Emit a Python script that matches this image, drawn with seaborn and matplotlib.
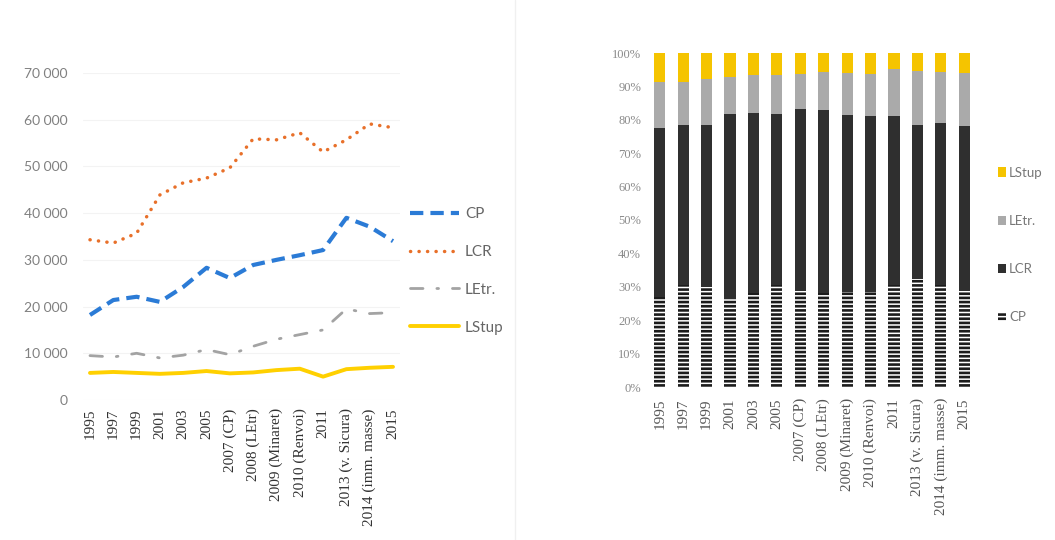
import numpy as np
import pandas as pd
import matplotlib
matplotlib.use("Agg")
import matplotlib.pyplot as plt
import seaborn as sns
from matplotlib.ticker import FuncFormatter
from matplotlib.patches import Patch
from matplotlib.lines import Line2D

# ---------------- data ----------------
categories = ["1995", "1997", "1999", "2001", "2003", "2005", "2007 (CP)",
              "2008 (LEtr)", "2009 (Minaret)", "2010 (Renvoi)", "2011",
              "2013 (v. Sicura)", "2014 (imm. masse)", "2015"]
cp = [18200, 21400, 22100, 21000, 24200, 28300, 26100, 28900, 30000, 31000, 32100, 39000, 37100, 34000]
lcr = [34300, 33600, 35700, 43900, 46500, 47500, 49700, 55900, 55700, 57200, 53100, 55700, 59100, 58300]
letr = [9500, 9200, 10000, 9000, 9600, 10800, 9700, 11500, 13000, 14000, 15000, 19500, 18500, 18700]
lstup = [5800, 6000, 5800, 5600, 5800, 6200, 5700, 5900, 6400, 6700, 5000, 6600, 6900, 7100]
series_names = ["CP", "LCR", "LEtr.", "LStup"]
abs_ticks = [0, 10000, 20000, 30000, 40000, 50000, 60000, 70000]
pct_ticks = [0, 10, 20, 30, 40, 50, 60, 70, 80, 90, 100]

# ---------------- style ----------------
sns.set_theme(style="white")
plt.rcParams['font.family'] = ['Lato', 'DejaVu Sans']
plt.rcParams['hatch.linewidth'] = 1.9

W, H = 1055, 540
fig = plt.figure(figsize=(W / 100, H / 100), dpi=100)
fig.patch.set_facecolor("white")

# ---------------- left: line chart ----------------
ax1 = fig.add_axes([83 / W, (H - 400) / H, 317 / W, 327 / H])
x = np.arange(len(categories))
df = pd.DataFrame({"x": x, "CP": cp, "LCR": lcr, "LEtr.": letr, "LStup": lstup})

line_styles = {
    "CP":    dict(color="#2B7BD6", lw=3.0, dashes=(3.2, 1.7), cap="butt"),
    "LCR":   dict(color="#E8702A", lw=2.5, dashes=(0.05, 2.4), cap="round"),
    "LEtr.": dict(color="#A3A3A3", lw=2.0, dashes=(4.5, 5, 0.6, 5), cap="round"),
    "LStup": dict(color="#FFD000", lw=2.8, dashes=None, cap="butt"),
}
handles = []
for name in series_names:
    st = line_styles[name]
    sns.lineplot(data=df, x="x", y=name, ax=ax1, color=st["color"], lw=st["lw"], sort=False)
    ln = ax1.lines[-1]
    if st["dashes"] is not None:
        ln.set_dashes(st["dashes"])
        ln.set_dash_capstyle(st["cap"])
    handles.append(ln)

ax1.set_xlim(-0.3, len(categories) - 1 + 0.3)
ax1.set_ylim(0, 70000)
ax1.set_yticks(abs_ticks)
ax1.yaxis.set_major_formatter(FuncFormatter(lambda v, p: f"{int(v):,}".replace(",", " ")))
ax1.set_xticks(x)
ax1.set_xticklabels(categories, rotation=90, family=["Liberation Serif", "DejaVu Serif"],
                    fontsize=11, color="#333333")
ax1.tick_params(axis="y", labelsize=10, labelcolor="#808080", length=0, pad=11)
ax1.tick_params(axis="x", length=0, pad=6)
ax1.grid(axis="y", color="#f3f3f3", lw=0.8)
ax1.set_axisbelow(True)
for s in ax1.spines.values():
    s.set_visible(False)
ax1.set_xlabel("")
ax1.set_ylabel("")

leg1 = fig.legend(handles, series_names, loc="center left",
                  bbox_to_anchor=(410 / W, 1 - 271 / H), frameon=False,
                  handlelength=3.2, handletextpad=0.4, labelspacing=1.55,
                  borderpad=0, borderaxespad=0, fontsize=11)
for t in leg1.get_texts():
    t.set_color("#666666")

# ---------------- right: 100% stacked bars ----------------
ax2 = fig.add_axes([648 / W, (H - 387) / H, 328 / W, 334 / H])
tot = np.array(cp) + np.array(lcr) + np.array(letr) + np.array(lstup)
cum_cp = np.array(cp) / tot * 100
cum_lcr = (np.array(cp) + np.array(lcr)) / tot * 100
cum_letr = (np.array(cp) + np.array(lcr) + np.array(letr)) / tot * 100
cum_all = tot / tot * 100

layers = [
    ("LStup", cum_all, dict(color="#F5C400")),
    ("LEtr.", cum_letr, dict(color="#AAAAAA")),
    ("LCR", cum_lcr, dict(color="#2F2F2F")),
    ("CP", cum_cp, dict(color="white", hatch="----", edgecolor="#1c1c1c")),
]
for name, vals, kw in layers:
    sns.barplot(x=categories, y=vals, ax=ax2, width=0.47, saturation=1,
                errorbar=None, linewidth=0, **kw)

ax2.set_ylim(0, 100)
ax2.set_yticks(pct_ticks)
ax2.set_yticklabels([f"{v}%" for v in pct_ticks])
ax2.set_xticks(x)
ax2.set_xticklabels(categories, rotation=90, family=["Liberation Serif", "DejaVu Serif"],
                    fontsize=11, color="#555555")
ax2.tick_params(axis="y", labelsize=9, labelcolor="#8a8a8a", length=0, pad=5)
ax2.tick_params(axis="x", length=0, pad=8)
for lab in ax2.get_yticklabels():
    lab.set_family(["Liberation Serif", "DejaVu Serif"])
for s in ax2.spines.values():
    s.set_visible(False)
ax2.set_xlabel("")
ax2.set_ylabel("")

leg_handles = [Patch(facecolor="#F5C400", edgecolor="none"),
               Patch(facecolor="#AAAAAA", edgecolor="none"),
               Patch(facecolor="#2F2F2F", edgecolor="none"),
               Patch(facecolor="white", edgecolor="#1c1c1c", hatch="----", lw=0)]
leg2 = fig.legend(leg_handles, ["LStup", "LEtr.", "LCR", "CP"], loc="center left",
                  bbox_to_anchor=(998 / W, 1 - 245 / H), frameon=False,
                  handlelength=0.6, handleheight=0.7, handletextpad=0.25,
                  labelspacing=2.75, borderpad=0, borderaxespad=0, fontsize=9.5)
for t in leg2.get_texts():
    t.set_color("#777777")

# faint separator like the original page frame
fig.add_artist(Line2D([515 / W, 515 / W], [0, 1], transform=fig.transFigure,
                      color="#f0f0f0", lw=1))

fig.savefig("out.png", dpi=100, facecolor="white")
